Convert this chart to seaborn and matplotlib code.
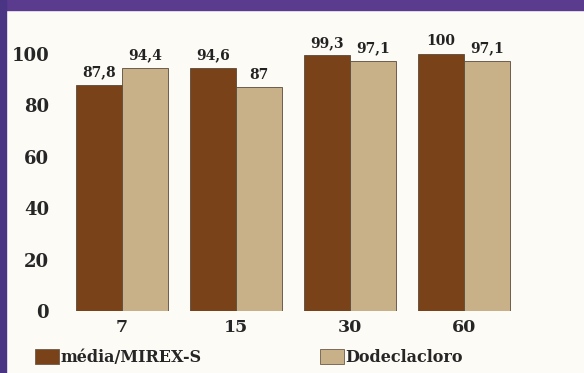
import pandas as pd
import seaborn as sns
import matplotlib.pyplot as plt
from matplotlib.patches import Patch, Rectangle

days = ["7", "15", "30", "60"]
mirex = [87.8, 94.6, 99.3, 100]
dodec = [94.4, 87, 97.1, 97.1]
series = ["média/MIREX-S", "Dodeclacloro"]
colors = ["#7a4219", "#c8b189"]

df = pd.DataFrame({
    "dia": days * 2,
    "valor": mirex + dodec,
    "serie": [series[0]] * 4 + [series[1]] * 4,
})

sns.set_style("white")
plt.rcParams["font.family"] = ["DejaVu Serif"]
plt.rcParams["font.weight"] = "bold"

fig = plt.figure(figsize=(5.84, 3.73), dpi=100)
fig.patch.set_facecolor("#fdfbf6")
# purple frame of the scanned page
fig.patches.append(Rectangle((0, 0.972), 1, 0.028, transform=fig.transFigure,
                             color="#5b3b8e", zorder=0))
fig.patches.append(Rectangle((0, 0), 0.011, 1, transform=fig.transFigure,
                             color="#4a3585", zorder=0))

ax = fig.add_axes([0.103, 0.166, 0.805, 0.780])
ax.set_facecolor("none")
sns.barplot(data=df, x="dia", y="valor", hue="serie", palette=colors,
            saturation=1, width=0.81, ax=ax, edgecolor="#5a4a3a",
            linewidth=0.6, legend=False)

for cont in ax.containers:
    labs = [("%g" % b.get_height()).replace(".", ",") for b in cont]
    ax.bar_label(cont, labels=labs, padding=4, fontsize=10, fontweight="bold",
                 color="#222222")

ax.set_ylim(0, 113)
ax.set_xlim(-0.544, 3.58)
ax.set_yticks([0, 20, 40, 60, 80, 100])
ax.tick_params(axis="y", labelsize=13, length=0, pad=8)
ax.tick_params(axis="x", labelsize=12.5, length=0, pad=6)
for lab in ax.get_yticklabels() + ax.get_xticklabels():
    lab.set_fontweight("bold")
ax.set_xlabel("")
ax.set_ylabel("")
sns.despine(ax=ax, left=True, bottom=True)

handles = [Patch(facecolor=c, edgecolor="#6a5a4a", linewidth=0.6) for c in colors]
fig.legend(handles, series, loc="lower left", bbox_to_anchor=(0.035, -0.02),
           ncol=2, frameon=False, handlelength=1.5,
           handleheight=1.1, handletextpad=0.1, columnspacing=7.4,
           prop={"weight": "bold", "size": 11.5})

fig.savefig("out.png", dpi=100, facecolor=fig.get_facecolor())
